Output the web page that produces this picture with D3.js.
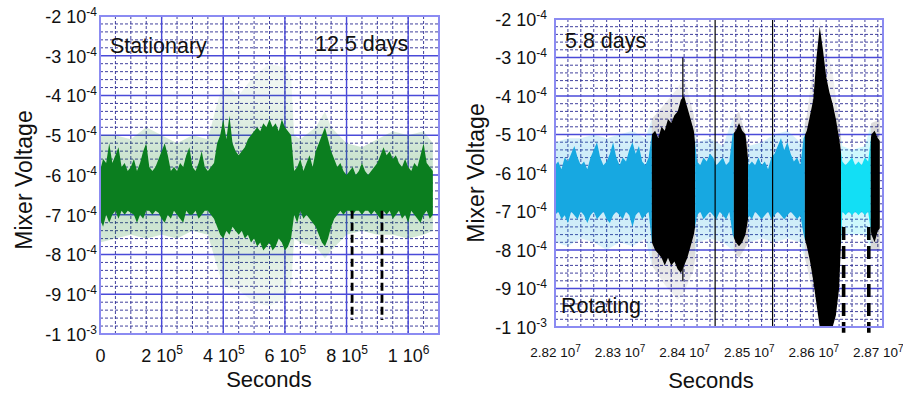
<!DOCTYPE html>
<html>
<head>
<meta charset="utf-8">
<script src="https://cdn.jsdelivr.net/npm/d3@7/dist/d3.min.js"></script>
<style>
  body { margin: 0; background: #fff; }
  svg { display: block; font-family: "Liberation Sans", Arial, sans-serif; }
</style>
</head>
<body>
<svg id="chart" width="903" height="396"></svg>
<script>
// ---- data (voltages in units of 1e-4 V) ----

// Stationary run: 1e4 s bins starting at t = 0
const statBinSec = 1e4;
const statCoreTop = [
  -5.9,-5.6,-5.7,-5.2,-5.7,-5.5,-5.3,-5.8,-5.7,-5.9,
  -5.8,-5.6,-5.9,-5.7,-5.4,-5.2,-5.8,-5.9,-5.8,-5.6,
  -5.4,-5.2,-5.5,-5.9,-5.8,-5.9,-5.7,-5.8,-5.5,-5.3,
  -5.8,-5.9,-5.7,-5.4,-5.8,-5.9,-5.8,-5.7,-5.2,-5.0,
  -4.6,-5.1,-4.5,-5.2,-5.4,-5.5,-5.4,-5.3,-5.1,-5.0,
  -4.9,-4.8,-4.9,-4.7,-4.8,-4.6,-4.8,-4.7,-4.9,-4.6,
  -4.8,-4.9,-5.0,-5.9,-5.8,-5.6,-5.9,-5.7,-5.5,-5.8,
  -5.4,-5.2,-5.0,-4.8,-5.1,-5.4,-5.6,-5.8,-5.7,-5.9,
  -6.0,-5.9,-5.8,-6.0,-5.9,-5.7,-5.9,-6.0,-5.9,-5.8,
  -5.7,-5.5,-5.3,-5.5,-5.4,-5.6,-5.5,-5.7,-5.8,-5.6,
  -5.8,-5.9,-5.7,-5.8,-5.5,-5.2,-5.7,-5.8,-5.9
];
const statCoreBot = [
  -7.1,-7.3,-7.0,-7.2,-7.0,-6.9,-7.1,-6.9,-7.0,-6.9,
  -6.95,-7.0,-7.2,-7.0,-7.1,-6.9,-6.9,-7.0,-6.9,-6.95,
  -7.1,-7.2,-7.0,-7.1,-6.9,-7.0,-7.1,-7.2,-6.9,-7.0,
  -7.0,-6.9,-7.1,-7.0,-6.9,-6.9,-7.0,-7.1,-7.3,-7.5,
  -7.6,-7.4,-7.5,-7.3,-7.4,-7.5,-7.4,-7.6,-7.5,-7.7,
  -7.6,-7.8,-7.7,-7.9,-7.8,-7.7,-7.9,-7.8,-7.6,-7.7,
  -7.9,-7.8,-7.6,-7.0,-7.2,-6.9,-7.1,-7.0,-7.1,-7.2,
  -7.3,-7.5,-7.7,-7.8,-7.6,-7.3,-7.1,-7.0,-6.9,-7.0,
  -6.9,-6.9,-7.0,-6.9,-6.9,-7.0,-6.9,-6.9,-7.0,-6.9,
  -7.0,-7.1,-6.9,-7.0,-6.9,-7.1,-7.0,-6.9,-7.1,-7.0,
  -7.2,-6.9,-7.0,-7.1,-7.2,-7.0,-6.9,-7.1,-7.0
];
// sparse scatter extent, bin index (1e4 s)
const statOuterT   = [0,5,10,15,20,25,30,35,38,40,45,50,55,60,62,63,65,70,73,75,80,85,90,95,100,105,108];
const statOuterTop = [-5.0,-5.0,-5.1,-4.8,-5.0,-5.2,-5.0,-5.1,-4.2,-3.7,-4.0,-3.5,-3.2,-3.3,-3.5,-5.0,-5.1,-4.8,-4.4,-4.8,-5.2,-5.3,-5.1,-4.9,-5.0,-4.9,-5.2];
const statOuterBot = [-7.7,-7.6,-7.5,-7.6,-7.5,-7.6,-7.4,-7.5,-8.3,-8.8,-8.9,-9.2,-9.3,-9.1,-8.8,-7.6,-7.7,-7.8,-8.1,-7.9,-7.5,-7.4,-7.5,-7.5,-7.6,-7.5,-7.4];
const statMarkers = [8.18e5, 9.15e5];
const statMarkerTop = -6.9, statMarkerBot = -9.65;

// Rotating run: 5e3 s bins starting at 2.82e7 s
const rotStart = 2.82e7;
const rotBinSec = 5e3;
const rotCoreTop = [
  -5.8,-5.7,-5.9,-5.6,-5.7,-5.5,-5.3,-5.6,-5.8,-5.7,
  -5.9,-5.6,-5.4,-5.2,-5.6,-5.8,-5.7,-5.5,-5.2,-5.6,
  -5.8,-5.6,-5.7,-5.4,-5.2,-5.5,-5.3,-5.7,-5.8,-5.6,
  -5.0,-4.9,-5.1,-4.8,-4.9,-4.6,-4.7,-4.5,-4.4,-4.1,
  -4.0,-4.3,-4.6,-4.9,-5.7,-5.8,-5.6,-5.7,-5.5,-5.6,
  -5.8,-5.7,-5.6,-5.8,-5.7,-5.0,-4.9,-4.7,-4.9,-5.0,
  -5.8,-5.7,-5.8,-5.6,-5.8,-5.7,-5.9,-5.6,-5.5,-5.3,
  -5.1,-5.4,-5.2,-5.5,-5.7,-5.6,-5.8,-5.1,-4.9,-4.5,
  -4.1,-3.0,-2.2,-2.8,-3.5,-3.9,-4.2,-4.6,-5.1,-5.7,
  -5.8,-5.7,-5.6,-5.8,-5.7,-5.8,-5.6,-5.7,-5.0,-4.9,
  -5.1,-5.2
];
const rotCoreBot = [
  -7.1,-7.0,-7.2,-7.1,-7.3,-7.0,-7.1,-7.2,-7.0,-7.1,
  -7.3,-7.1,-7.0,-7.2,-7.1,-7.0,-7.2,-7.3,-7.1,-7.0,
  -7.1,-7.2,-7.0,-7.1,-7.4,-7.1,-7.0,-7.2,-7.1,-7.0,
  -7.8,-8.0,-8.1,-8.2,-8.4,-8.2,-8.4,-8.3,-8.5,-8.6,
  -8.4,-8.2,-7.9,-7.6,-7.1,-7.0,-7.2,-7.1,-7.0,-7.1,
  -7.2,-7.0,-7.1,-7.2,-7.0,-7.6,-7.8,-7.9,-7.8,-7.6,
  -7.1,-7.2,-7.0,-7.1,-7.2,-7.1,-7.0,-7.2,-7.1,-7.0,
  -7.1,-7.2,-7.1,-7.0,-7.1,-7.2,-7.1,-7.6,-7.9,-8.3,
  -8.8,-9.4,-10,-10,-10,-10,-10,-9.7,-9.0,-7.0,
  -7.1,-7.0,-7.1,-7.0,-7.1,-7.0,-7.1,-7.0,-7.6,-7.8,
  -7.5,-7.4
];
const rotOuterT   = [0,4,8,12,16,20,24,28,30,34,38,40,43,44,48,52,55,57,60,64,68,72,76,78,82,86,89,92,96,98,101];
const rotOuterTop = [-5.2,-5.1,-5.1,-5.0,-5.1,-5.0,-4.9,-5.1,-4.6,-4.2,-3.8,-3.5,-4.5,-5.2,-5.1,-5.3,-4.6,-4.4,-5.3,-5.2,-5.0,-4.9,-5.2,-4.5,-2.0,-3.4,-5.3,-5.4,-5.3,-4.7,-4.6];
const rotOuterBot = [-7.8,-7.9,-7.7,-7.8,-8.0,-7.8,-7.9,-7.7,-8.4,-8.9,-9.3,-9.1,-8.5,-7.8,-7.7,-7.8,-8.0,-8.2,-7.8,-7.7,-7.8,-7.7,-7.8,-8.4,-10,-10,-7.6,-7.6,-7.6,-8.0,-8.0];
// coloured runs of the rotating data set
const rotSegStart = [2.82e7, 2.8350e7, 2.8417e7, 2.8477e7, 2.8499e7, 2.8587e7, 2.8643e7, 2.8689e7];
const rotSegEnd   = [2.8350e7, 2.8417e7, 2.8477e7, 2.8499e7, 2.8587e7, 2.8643e7, 2.8689e7, 2.8703e7];
const rotSegKind  = ['a', 'b', 'a', 'b', 'a', 'b', 'c', 'b'];
// isolated black traces
const rotLineT   = [2.8398e7, 2.8448e7, 2.8537e7];
const rotLineTop = [-3.0, -2.0, -2.0];
const rotLineBot = [-8.8, -10, -10];
const rotMarkers = [2.8647e7, 2.8686e7];
const rotMarkerTop = -7.4, rotMarkerBot = -10.15;

// ticks
const yTicks = [-2, -3, -4, -5, -6, -7, -8, -9, -10];
const statXTicks = [0, 2e5, 4e5, 6e5, 8e5, 1e6];
const rotXTicks = [2.82e7, 2.83e7, 2.84e7, 2.85e7, 2.86e7, 2.87e7];

// scatter density fades away from the band centre
const fadeV = [-2, -4, -5.4, -6.4, -7.4, -8.8, -10];
const fadeOp = [0.03, 0.07, 0.2, 0.25, 0.2, 0.07, 0.03];

// ---- drawing ----
const svg = d3.select('#chart');
const defs = svg.append('defs');
const kindColor = { a: '#17a8e1', b: '#000000', c: '#12dff5' };
const statColor = '#0b7e1f';

function yLabel(v) {
  return v === -10 ? ['-1 10', '-3'] : [v + ' 10', '-4'];
}

function fadeGradient(id, color, y) {
  const gr = defs.append('linearGradient').attr('id', id)
    .attr('gradientUnits', 'userSpaceOnUse')
    .attr('x1', 0).attr('x2', 0).attr('y1', y(-2)).attr('y2', y(-10));
  fadeV.forEach((v, i) => {
    gr.append('stop').attr('offset', (v + 2) / -8)
      .attr('stop-color', color).attr('stop-opacity', fadeOp[i]);
  });
  return `url(#${id})`;
}

function buildFrame(p) {
  const x = d3.scaleLinear().domain(p.xDomain).range([p.left, p.right]);
  const y = d3.scaleLinear().domain([-10, -2]).range([p.bottom, p.top]);

  defs.append('clipPath').attr('id', p.id + '-clip')
    .append('rect')
    .attr('x', p.left).attr('y', p.top)
    .attr('width', p.right - p.left).attr('height', p.bottom - p.top);

  const grid = svg.append('g');
  const yMinor = d3.range(0, 41).map(k => -10 + k * 0.2).filter(v => Math.abs(v - Math.round(v)) > 0.01);

  grid.selectAll('.vmin').data(p.xMinor).join('line')
    .attr('x1', d => x(d)).attr('x2', d => x(d))
    .attr('y1', p.top).attr('y2', p.bottom)
    .attr('stroke', '#2b2b92').attr('stroke-width', 0.9).attr('stroke-dasharray', '3,2');
  grid.selectAll('.hmin').data(yMinor).join('line')
    .attr('x1', p.left).attr('x2', p.right)
    .attr('y1', d => y(d)).attr('y2', d => y(d))
    .attr('stroke', '#2b2b92').attr('stroke-width', 0.9).attr('stroke-dasharray', '3,2');
  grid.selectAll('.vmaj').data(p.xMajor).join('line')
    .attr('x1', d => x(d)).attr('x2', d => x(d))
    .attr('y1', p.top).attr('y2', p.bottom)
    .attr('stroke', '#4a4ad8').attr('stroke-width', 1.4);
  grid.selectAll('.hmaj').data(yTicks).join('line')
    .attr('x1', p.left).attr('x2', p.right)
    .attr('y1', d => y(d)).attr('y2', d => y(d))
    .attr('stroke', '#4a4ad8').attr('stroke-width', 1.4);

  return { x, y };
}

function finishFrame(p, x, y) {
  svg.append('rect')
    .attr('x', p.left).attr('y', p.top)
    .attr('width', p.right - p.left).attr('height', p.bottom - p.top)
    .attr('fill', 'none').attr('stroke', '#8b8bf2').attr('stroke-width', 2);

  // y axis
  const ya = svg.append('g')
    .attr('transform', `translate(${p.left},0)`)
    .call(d3.axisLeft(y).tickValues(yTicks).tickSize(0).tickPadding(p.yPad));
  ya.select('.domain').remove();
  ya.selectAll('text').each(function (d) {
    const [main, sup] = yLabel(d);
    const t = d3.select(this).text('')
      .attr('font-size', 18).attr('font-family', 'Liberation Sans, Arial, sans-serif')
      .attr('fill', '#111').attr('dy', '0.36em');
    t.append('tspan').text(main);
    t.append('tspan').attr('font-size', 12).attr('dy', -7).text(sup);
  });

  // x axis
  const xa = svg.append('g')
    .attr('transform', `translate(0,${p.bottom})`)
    .call(d3.axisBottom(x).tickValues(p.xTicks).tickSize(0));
  xa.select('.domain').remove();
  xa.selectAll('text').each(function (d) {
    const [main, sup] = p.xLabel(d);
    const t = d3.select(this).text('')
      .attr('font-size', p.xFont).attr('font-family', 'Liberation Sans, Arial, sans-serif')
      .attr('fill', '#111').attr('y', p.xLabelY).attr('dy', null);
    t.append('tspan').text(main);
    if (sup) t.append('tspan').attr('font-size', p.xSupFont).attr('dy', -p.xSupRaise).text(sup);
  });

  svg.append('text')
    .attr('transform', `translate(${p.yTitleX},${p.yTitleY}) rotate(-90)`)
    .attr('text-anchor', 'middle').attr('font-size', 23).attr('fill', '#111')
    .text('Mixer Voltage');
  svg.append('text')
    .attr('x', p.xTitleX).attr('y', p.xTitleY)
    .attr('text-anchor', 'middle').attr('font-size', 22).attr('fill', '#111')
    .text('Seconds');
}

const area = (x, y) => d3.area()
  .x(d => x(d.t)).y0(d => y(d.bot)).y1(d => y(d.top));

// ---- left panel ----
const L = {
  id: 'stat', left: 100, right: 439, top: 16, bottom: 334,
  xDomain: [0, 1.1e6],
  xMinor: d3.range(0, 23).map(k => k * 5e4),
  xMajor: statXTicks,
  xTicks: statXTicks,
  xLabel: v => v === 0 ? ['0', ''] : v === 1e6 ? ['1 10', '6'] : [(v / 1e5) + ' 10', '5'],
  xFont: 18, xSupFont: 12, xSupRaise: 8, xLabelY: 28,
  yPad: 3,
  yTitleX: 32, yTitleY: 180, xTitleX: 269, xTitleY: 387
};
{
  const { x, y } = buildFrame(L);
  const outer = statOuterT.map((k, i) => ({ t: k * statBinSec, top: statOuterTop[i], bot: statOuterBot[i] }));
  const core = statCoreTop.map((v, i) => ({ t: i * statBinSec, top: v, bot: statCoreBot[i] }));
  const g = svg.append('g').attr('clip-path', 'url(#stat-clip)');
  g.append('path').datum(outer).attr('d', area(x, y)).attr('fill', fadeGradient('stat-fade', statColor, y));
  g.append('path').datum(core).attr('d', area(x, y)).attr('fill', statColor);

  svg.append('g').selectAll('line').data(statMarkers).join('line')
    .attr('x1', d => x(d)).attr('x2', d => x(d))
    .attr('y1', y(statMarkerTop)).attr('y2', y(statMarkerBot))
    .attr('stroke', '#000').attr('stroke-width', 2.8).attr('stroke-dasharray', '8,4');

  finishFrame(L, x, y);
  svg.append('text').attr('x', 110).attr('y', 53).attr('font-size', 21.5).attr('fill', '#111').text('Stationary');
  svg.append('text').attr('x', 315).attr('y', 51).attr('font-size', 21.5).attr('fill', '#111').text('12.5 days');
}

// ---- right panel ----
const R = {
  id: 'rot', left: 555, right: 883, top: 19, bottom: 327,
  xDomain: [2.82e7, 2.8708e7],
  xMinor: d3.range(0, 26).map(k => 2.82e7 + k * 2e4),
  xMajor: [],
  xTicks: rotXTicks,
  xLabel: v => [(v / 1e7).toFixed(2) + ' 10', '7'],
  xFont: 13.5, xSupFont: 10, xSupRaise: 5, xLabelY: 30,
  yPad: 8,
  yTitleX: 484, yTitleY: 173, xTitleX: 711, xTitleY: 388
};
{
  const { x, y } = buildFrame(R);
  const outer = rotOuterT.map((k, i) => ({ t: rotStart + k * rotBinSec, top: rotOuterTop[i], bot: rotOuterBot[i] }));
  const core = rotCoreTop.map((v, i) => ({ t: rotStart + i * rotBinSec, top: v, bot: rotCoreBot[i] }));
  const dataG = svg.append('g').attr('clip-path', 'url(#rot-clip)');
  const fills = {};
  Object.keys(kindColor).forEach(k => { fills[k] = fadeGradient('rot-fade-' + k, kindColor[k], y); });

  rotSegStart.forEach((s, i) => {
    const cid = 'rot-seg-' + i;
    defs.append('clipPath').attr('id', cid).append('rect')
      .attr('x', x(s)).attr('y', R.top)
      .attr('width', x(rotSegEnd[i]) - x(s)).attr('height', R.bottom - R.top);
    const g = dataG.append('g').attr('clip-path', `url(#${cid})`);
    g.append('path').datum(outer).attr('d', area(x, y)).attr('fill', fills[rotSegKind[i]]);
    g.append('path').datum(core).attr('d', area(x, y)).attr('fill', kindColor[rotSegKind[i]]);
  });

  dataG.selectAll('.trace').data(rotLineT).join('line')
    .attr('x1', d => x(d)).attr('x2', d => x(d))
    .attr('y1', (d, i) => y(rotLineTop[i])).attr('y2', (d, i) => y(rotLineBot[i]))
    .attr('stroke', '#000').attr('stroke-width', 1.2);

  svg.append('g').selectAll('line').data(rotMarkers).join('line')
    .attr('x1', d => x(d)).attr('x2', d => x(d))
    .attr('y1', y(rotMarkerTop)).attr('y2', y(rotMarkerBot))
    .attr('stroke', '#000').attr('stroke-width', 3.6).attr('stroke-dasharray', '13,6');

  finishFrame(R, x, y);
  svg.append('text').attr('x', 565).attr('y', 48).attr('font-size', 21.5).attr('fill', '#111').text('5.8 days');
  svg.append('text').attr('x', 561).attr('y', 313).attr('font-size', 21.5).attr('fill', '#111').text('Rotating');
}
</script>
</body>
</html>
